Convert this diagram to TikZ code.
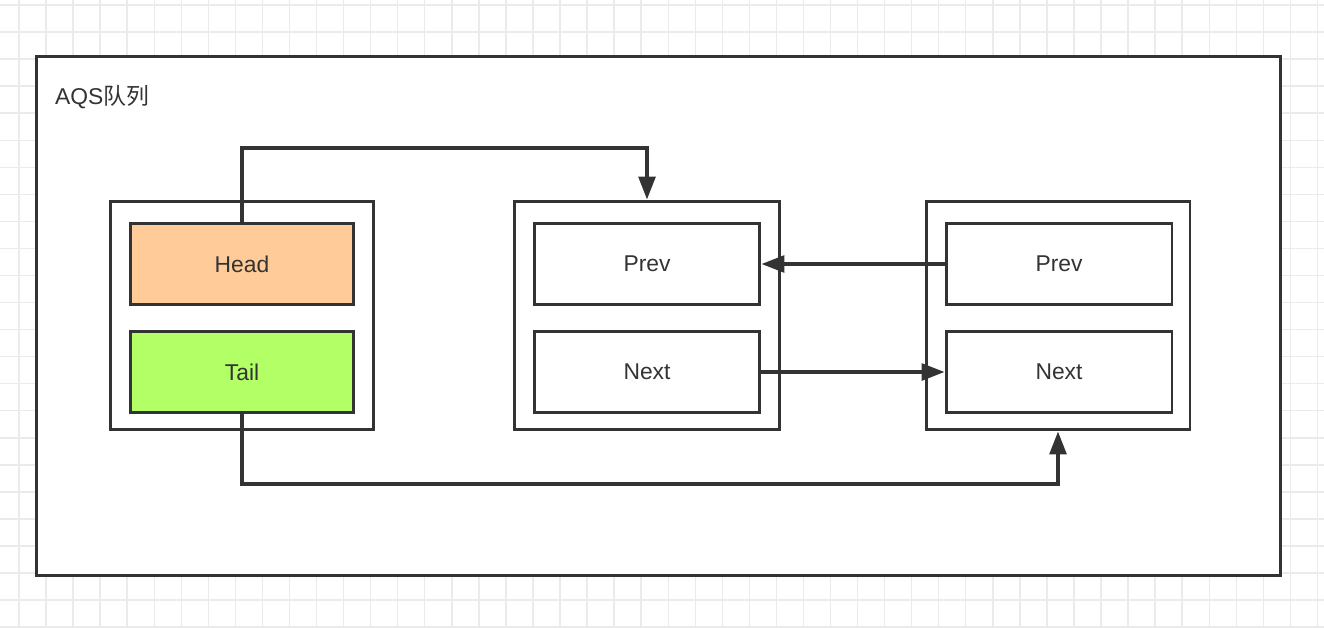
\documentclass[tikz,border=0pt]{standalone}
\usepackage{fontspec}
\setmainfont{Liberation Sans}
\newfontfamily\cjk{Noto Sans CJK SC}
\usetikzlibrary{arrows.meta}
\definecolor{QInk}{HTML}{333333}
\definecolor{QGrid}{HTML}{EBEBEB}
\definecolor{QHead}{HTML}{FFCC99}
\definecolor{QTail}{HTML}{B3FF66}

\begin{document}
\begin{tikzpicture}[
  x=0.02cm, y=-0.02cm,
  holder/.style={draw=QInk, line width=1.7pt, minimum height=4.58cm,
                 minimum width=#1, inner sep=0pt},
  field/.style={draw=QInk, line width=1.7pt, minimum width=#1,
                minimum height=1.62cm, font=\fontsize{13}{15}\selectfont,
                text=QInk, inner sep=0pt},
  link/.style={-{Triangle[length=13pt, width=9.5pt]}, line width=2pt, color=QInk}
]

% canvas and grid
\useasboundingbox (0,0) rectangle (1324,628);
\fill[white] (0,0) rectangle (1324,628);
\foreach \k in {0,...,48}
  \draw[QGrid, line width=0.8pt] ({19+27.05*\k},0) -- ({19+27.05*\k},628);
\foreach \k in {0,...,23}
  \draw[QGrid, line width=0.8pt] (0,{5+27.05*\k}) -- (1324,{5+27.05*\k});

% AQS queue frame
\node[draw=QInk, line width=1.7pt, fill=white, minimum width=24.9cm,
      minimum height=10.4cm, inner sep=0pt] (queue) at (658.5,316) {};
\node[anchor=west, text=QInk, font=\fontsize{13}{15}\selectfont] (title)
  at (49,97) {AQS{\cjk 队列}};

% Head / Tail holder
\node[holder=5.28cm] (sync) at (242,315.5) {};
\node[field=4.48cm, fill=QHead] (head) at (242,264) {Head};
\node[field=4.48cm, fill=QTail] (tail) at (242,372) {Tail};

% first node
\node[holder=5.32cm] (first) at (647,315.5) {};
\node[field=4.52cm] (prev1) at (647,264) {Prev};
\node[field=4.52cm] (next1) at (647,372) {Next};

% second node
\node[holder=5.28cm] (second) at (1058,315.5) {};
\node[field=4.52cm] (prev2) at (1059,264) {Prev};
\node[field=4.52cm] (next2) at (1059,372) {Next};

% head points at first node, tail at second node
\coordinate (hbend) at (647,148);
\coordinate (tbend) at (1058,484);
\draw[link] (head.north) |- (hbend) -- (first.north);
\draw[link] (tail.south) |- (tbend) -- (second.south);

% prev / next links
\draw[link] (prev2.west) -- (prev1.east);
\draw[link] (next1.east) -- (next2.west);

\end{tikzpicture}
\end{document}
